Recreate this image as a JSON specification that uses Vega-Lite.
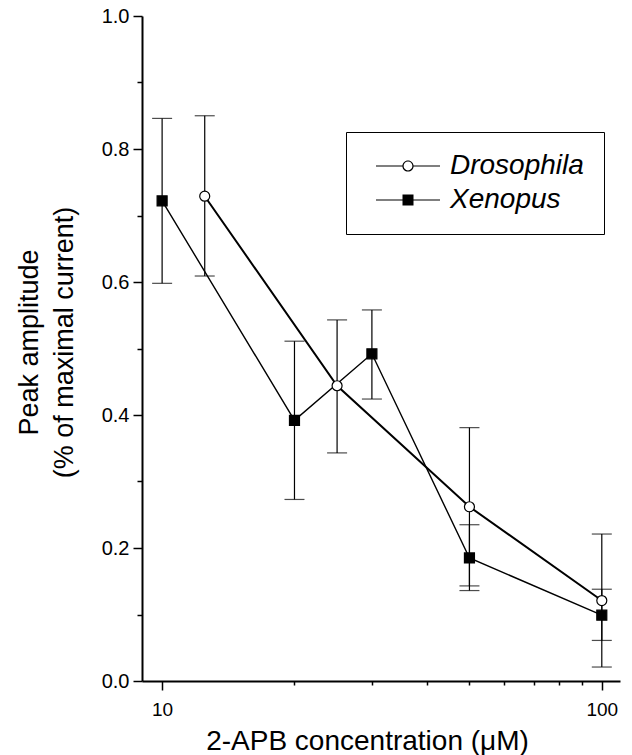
{
  "$schema": "https://vega.github.io/schema/vega-lite/v6.json",
  "width": 478,
  "height": 665,
  "autosize": {"type": "none"},
  "padding": {"left": 142, "top": 16, "right": 12, "bottom": 74},
  "background": "white",
  "config": {
    "view": {"stroke": null},
    "font": "Liberation Sans",
    "axis": {
      "domainColor": "black",
      "domainWidth": 2,
      "tickColor": "black",
      "tickWidth": 1.5,
      "labelColor": "black",
      "titleColor": "black",
      "labelFont": "Liberation Sans",
      "titleFont": "Liberation Sans",
      "grid": false
    },
    "legend": {
      "orient": "none",
      "legendX": 204,
      "legendY": 116,
      "padding": 20,
      "symbolOffset": 28,
      "labelOffset": 28,
      "rowPadding": 6,
      "labelFontSize": 28,
      "labelFontStyle": "italic",
      "labelFont": "Liberation Sans",
      "labelColor": "black",
      "symbolSize": 100,
      "symbolStrokeWidth": 0,
      "symbolFillColor": "black",
      "symbolOpacity": 1,
      "strokeColor": "black",
      "fillColor": "white"
    }
  },
  "data": {
    "values": [
      {"series": "Drosophila", "conc": 12.5, "amp": 0.729, "lo": 0.609, "hi": 0.850},
      {"series": "Drosophila", "conc": 25, "amp": 0.444, "lo": 0.343, "hi": 0.543},
      {"series": "Drosophila", "conc": 50, "amp": 0.262, "lo": 0.143, "hi": 0.381},
      {"series": "Drosophila", "conc": 100, "amp": 0.121, "lo": 0.021, "hi": 0.221},
      {"series": "Xenopus", "conc": 10, "amp": 0.722, "lo": 0.598, "hi": 0.846},
      {"series": "Xenopus", "conc": 20, "amp": 0.392, "lo": 0.273, "hi": 0.511},
      {"series": "Xenopus", "conc": 30, "amp": 0.492, "lo": 0.424, "hi": 0.558},
      {"series": "Xenopus", "conc": 50, "amp": 0.185, "lo": 0.136, "hi": 0.235},
      {"series": "Xenopus", "conc": 100, "amp": 0.099, "lo": 0.061, "hi": 0.138}
    ]
  },
  "encoding": {
    "x": {
      "field": "conc",
      "type": "quantitative",
      "scale": {"type": "log", "domain": [9, 110], "nice": false},
      "axis": {
        "title": "2-APB concentration (μM)",
        "values": [10, 20, 30, 40, 50, 60, 70, 80, 90, 100],
        "labelExpr": "datum.value == 10 || datum.value == 100 ? format(datum.value, 'd') : ''",
        "tickSize": {"condition": {"test": "datum.value == 10 || datum.value == 100", "value": 9}, "value": 4},
        "labelPadding": 10,
        "labelFontSize": 19,
        "labelOverlap": false,
        "labelFlush": false,
        "titleFontSize": 28,
        "titleFontWeight": "normal",
        "titleX": 225,
        "titleY": 68,
        "titleAlign": "center",
        "titleBaseline": "alphabetic"
      }
    },
    "y": {
      "field": "amp",
      "type": "quantitative",
      "scale": {"domain": [0, 1], "nice": false},
      "axis": {
        "title": ["Peak amplitude", "(% of maximal current)"],
        "values": [0, 0.1, 0.2, 0.3, 0.4, 0.5, 0.6, 0.7, 0.8, 0.9, 1.0],
        "labelExpr": "round(datum.value * 10) % 2 == 0 ? format(datum.value, '.1f') : ''",
        "tickSize": {"condition": {"test": "round(datum.value * 10) % 2 == 0", "value": 9}, "value": 5},
        "labelPadding": 4,
        "labelFontSize": 20,
        "labelOverlap": false,
        "titleFontSize": 27,
        "titleFontWeight": "normal",
        "titleAngle": -90,
        "titleAlign": "center",
        "titleBaseline": "alphabetic",
        "titleX": -105,
        "titleY": 326,
        "titleLineHeight": 35
      }
    }
  },
  "resolve": {"scale": {"shape": "independent"}},
  "layer": [
    {
      "mark": {"type": "errorbar", "ticks": true, "size": 20, "thickness": 1.2, "color": "black"},
      "encoding": {
        "y": {
          "field": "lo",
          "type": "quantitative",
          "scale": {"domain": [0, 1], "nice": false},
          "axis": {
            "title": ["Peak amplitude", "(% of maximal current)"],
            "values": [0, 0.1, 0.2, 0.3, 0.4, 0.5, 0.6, 0.7, 0.8, 0.9, 1.0],
            "labelExpr": "round(datum.value * 10) % 2 == 0 ? format(datum.value, '.1f') : ''",
            "tickSize": {"condition": {"test": "round(datum.value * 10) % 2 == 0", "value": 9}, "value": 5},
            "labelPadding": 4,
            "labelFontSize": 20,
            "labelOverlap": false,
            "titleFontSize": 27,
            "titleFontWeight": "normal",
            "titleAngle": -90,
            "titleAlign": "center",
            "titleBaseline": "alphabetic",
            "titleX": -105,
            "titleY": 326,
            "titleLineHeight": 35
          }
        },
        "y2": {"field": "hi"}
      }
    },
    {
      "transform": [{"filter": "datum.series == 'Drosophila'"}],
      "mark": {"type": "line", "color": "black", "strokeWidth": 2}
    },
    {
      "transform": [{"filter": "datum.series == 'Xenopus'"}],
      "mark": {"type": "line", "color": "black", "strokeWidth": 1.4}
    },
    {
      "mark": {"type": "point", "filled": true, "stroke": "black", "strokeWidth": 1.2, "opacity": 1, "size": 100},
      "encoding": {
        "shape": {
          "field": "series",
          "type": "nominal",
          "scale": {"domain": ["Drosophila", "Xenopus"], "range": ["circle", "square"]},
          "legend": null
        },
        "fill": {
          "field": "series",
          "type": "nominal",
          "scale": {"domain": ["Drosophila", "Xenopus"], "range": ["white", "black"]},
          "legend": null
        }
      }
    },
    {
      "transform": [{"filter": "false"}],
      "mark": {"type": "point", "filled": true, "color": "black", "opacity": 1, "size": 100},
      "encoding": {
        "shape": {
          "field": "series",
          "type": "nominal",
          "scale": {
            "domain": ["Drosophila", "Xenopus"],
            "range": [
              "M-6.4,-0.12H-1.1V0.12H-6.4Z M1.1,-0.12H6.4V0.12H1.1Z M1.12,0A1.12,1.12,0,1,1,-1.12,0A1.12,1.12,0,1,1,1.12,0Z M0.88,0A0.88,0.88,0,1,0,-0.88,0A0.88,0.88,0,1,0,0.88,0Z",
              "M-6.4,-0.12H-1.1V0.12H-6.4Z M1.1,-0.12H6.4V0.12H1.1Z M-1.1,-1.1H1.1V1.1H-1.1Z"
            ]
          },
          "legend": {"title": null}
        }
      }
    }
  ]
}
